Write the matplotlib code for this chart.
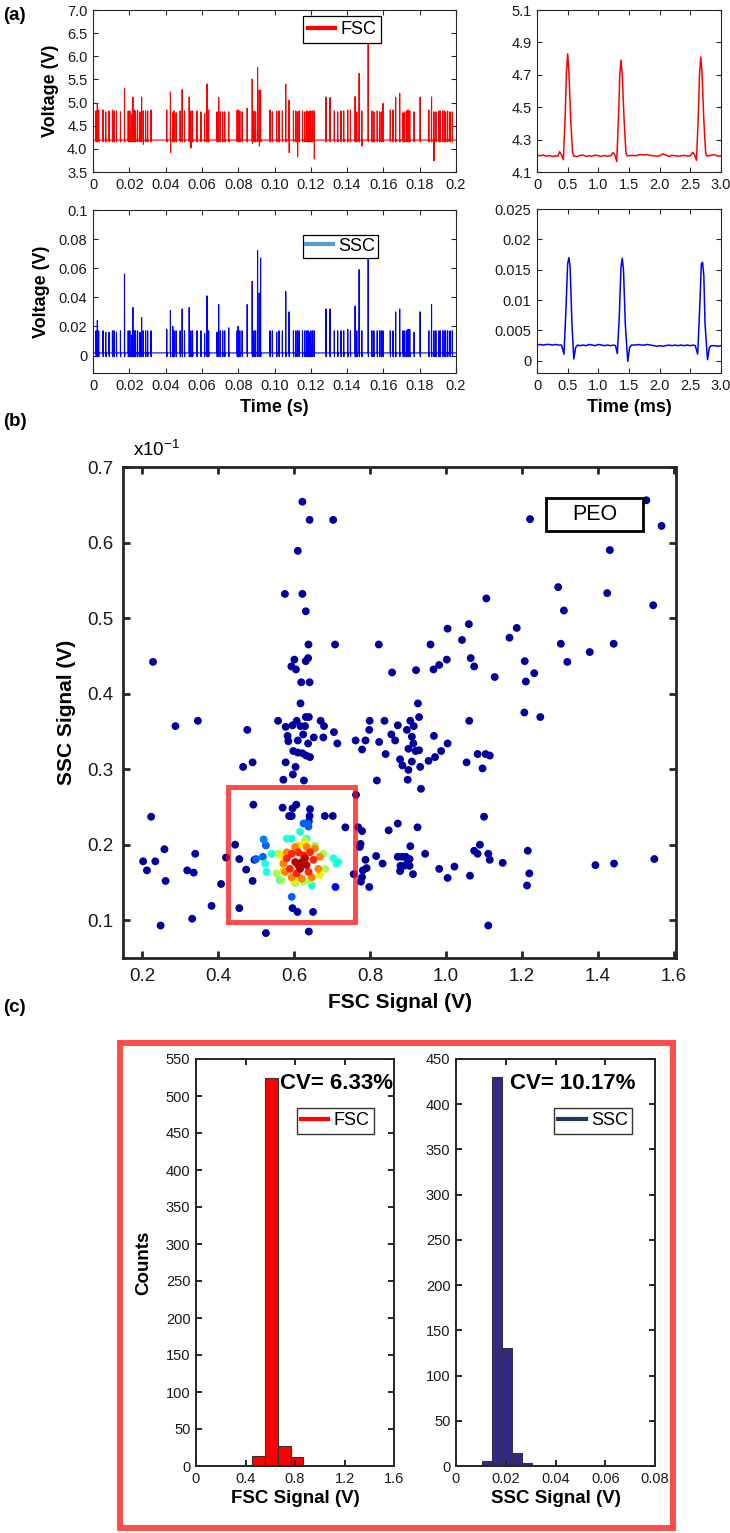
import numpy as np
import matplotlib
matplotlib.use('Agg')
import matplotlib.pyplot as plt
from matplotlib.lines import Line2D
from matplotlib.patches import Rectangle

plt.rcParams['font.family'] = ['Liberation Sans', 'DejaVu Sans']
plt.rcParams['mathtext.fontset'] = 'custom'
plt.rcParams['mathtext.rm'] = 'Liberation Sans'

# ---------------- data: panel (a), 0.2 s traces ----------------
spike_t = [0.00166, 0.0024, 0.00314, 0.00554, 0.00702, 0.00886, 0.01071, 0.01163, 0.01293, 0.01514,
           0.01736, 0.01939, 0.02031, 0.02124, 0.02198, 0.02271, 0.02345, 0.02456, 0.02585, 0.02678,
           0.0277, 0.029, 0.0301, 0.03195, 0.04063, 0.04266, 0.04395, 0.04469, 0.0458, 0.04801,
           0.04912, 0.05042, 0.053, 0.05392, 0.05485, 0.05725, 0.05946, 0.0615, 0.06279, 0.06371,
           0.06833, 0.06925, 0.07018, 0.07147, 0.07258, 0.07479, 0.07941, 0.07996, 0.08089, 0.08218,
           0.08495, 0.08772, 0.08864, 0.08957, 0.09067, 0.0916, 0.09234, 0.09751, 0.0988, 0.1012,
           0.10249, 0.10434, 0.10619, 0.10803, 0.11044, 0.11173, 0.11265, 0.11357, 0.11542, 0.11671,
           0.11782, 0.11856, 0.1193, 0.12004, 0.12096, 0.12188, 0.12835, 0.13056, 0.13296, 0.13481,
           0.13666, 0.13813, 0.14035, 0.14183, 0.14441, 0.14534, 0.14663, 0.14811, 0.15162, 0.15365,
           0.15475, 0.1566, 0.15789, 0.15882, 0.15974, 0.1638, 0.16528, 0.16676, 0.16898, 0.17082,
           0.17175, 0.17285, 0.17359, 0.17452, 0.17692, 0.18024, 0.18504, 0.18652, 0.18781, 0.18892,
           0.19058, 0.19132, 0.19261, 0.19354, 0.19428, 0.19538, 0.19668, 0.19797]
fsc_peak = [4.82, 4.98, 4.84, 4.84, 4.80, 4.82, 4.84, 4.82, 4.82, 4.80,
            5.31, 4.82, 4.82, 4.74, 5.12, 4.84, 4.82, 4.84, 4.80, 5.12,
            4.82, 4.82, 4.82, 4.84, 4.84, 5.23, 4.78, 4.82, 4.78, 4.82,
            5.28, 4.82, 5.12, 4.82, 4.82, 4.82, 4.80, 4.76, 5.40, 4.84,
            4.80, 5.11, 4.80, 4.80, 4.80, 4.80, 4.83, 4.84, 4.82, 4.80,
            4.88, 5.51, 4.82, 4.80, 5.76, 5.27, 5.27, 4.84, 4.80, 4.82,
            4.82, 4.82, 5.40, 5.05, 4.82, 4.82, 4.80, 4.82, 4.82, 4.80,
            4.82, 4.80, 4.82, 4.82, 4.82, 4.82, 5.12, 5.11, 4.82, 4.80,
            4.82, 4.82, 4.84, 4.84, 5.13, 4.80, 5.63, 4.82, 6.30, 4.82,
            4.80, 4.82, 4.80, 4.80, 4.98, 4.84, 4.84, 5.11, 5.20, 4.78,
            4.80, 4.82, 4.84, 4.82, 4.80, 5.12, 4.84, 5.12, 4.80, 4.80,
            4.82, 4.82, 4.82, 4.82, 4.80, 4.82, 4.80, 4.80]
ssc_peak = [0.017, 0.024, 0.017, 0.017, 0.016, 0.016, 0.017, 0.017, 0.016, 0.017,
            0.056, 0.017, 0.017, 0.014, 0.033, 0.017, 0.017, 0.017, 0.016, 0.026,
            0.017, 0.017, 0.017, 0.017, 0.018, 0.031, 0.020, 0.017, 0.017, 0.017,
            0.032, 0.017, 0.033, 0.017, 0.017, 0.017, 0.017, 0.015, 0.041, 0.017,
            0.016, 0.035, 0.017, 0.017, 0.017, 0.019, 0.017, 0.020, 0.017, 0.017,
            0.035, 0.051, 0.017, 0.017, 0.072, 0.043, 0.067, 0.017, 0.017, 0.016,
            0.017, 0.017, 0.044, 0.030, 0.017, 0.017, 0.017, 0.017, 0.017, 0.017,
            0.017, 0.017, 0.016, 0.017, 0.017, 0.017, 0.032, 0.032, 0.017, 0.017,
            0.017, 0.017, 0.018, 0.017, 0.034, 0.017, 0.059, 0.017, 0.072, 0.017,
            0.017, 0.017, 0.017, 0.017, 0.017, 0.017, 0.017, 0.030, 0.032, 0.017,
            0.017, 0.017, 0.018, 0.018, 0.016, 0.030, 0.017, 0.035, 0.017, 0.017,
            0.017, 0.017, 0.017, 0.017, 0.017, 0.017, 0.017, 0.017]
fsc_base = 4.19
fsc_dip_default = 4.15
fsc_dip_t = [0.0277, 0.04266, 0.05392, 0.08772, 0.0916, 0.10803, 0.11265, 0.12188, 0.14811, 0.18781]
fsc_dip_v = [4.10, 3.92, 4.02, 4.12, 4.06, 3.92, 3.83, 3.78, 4.06, 3.74]
ssc_base = 0.0018
ssc_dip_default = -0.0008

# ---------------- data: panel (a), 3 ms zoom ----------------
ms_fsc_t = [0, 0.05, 0.1, 0.15, 0.2, 0.25, 0.3, 0.34, 0.37, 0.40, 0.43, 0.46, 0.48, 0.50, 0.52, 0.55,
            0.58, 0.60, 0.65, 0.70, 0.75, 0.80, 0.85, 0.90, 0.95, 1.0, 1.05, 1.10, 1.15, 1.20, 1.24,
            1.27, 1.30, 1.33, 1.35, 1.37, 1.39, 1.42, 1.45, 1.47, 1.50, 1.55, 1.60, 1.65, 1.70, 1.75,
            1.80, 1.85, 1.90, 1.95, 2.0, 2.05, 2.10, 2.15, 2.20, 2.25, 2.30, 2.35, 2.40, 2.45, 2.50,
            2.54, 2.57, 2.60, 2.63, 2.65, 2.67, 2.69, 2.72, 2.75, 2.77, 2.80, 2.85, 2.90, 2.95, 3.0]
ms_fsc_v = [4.205, 4.200, 4.205, 4.198, 4.202, 4.196, 4.200, 4.198, 4.225, 4.205, 4.175, 4.45, 4.72,
            4.83, 4.72, 4.42, 4.22, 4.198, 4.195, 4.202, 4.205, 4.196, 4.200, 4.198, 4.205, 4.200,
            4.196, 4.202, 4.198, 4.200, 4.220, 4.205, 4.165, 4.45, 4.70, 4.79, 4.70, 4.42, 4.22, 4.20,
            4.200, 4.203, 4.200, 4.205, 4.208, 4.205, 4.208, 4.202, 4.200, 4.198, 4.200, 4.212, 4.205,
            4.196, 4.203, 4.200, 4.198, 4.200, 4.203, 4.198, 4.200, 4.222, 4.205, 4.172, 4.45, 4.70,
            4.81, 4.72, 4.42, 4.22, 4.198, 4.200, 4.205, 4.206, 4.198, 4.200]
ms_ssc_t = [0, 0.05, 0.1, 0.15, 0.2, 0.25, 0.3, 0.35, 0.40, 0.44, 0.47, 0.50, 0.52, 0.54, 0.57, 0.60,
            0.63, 0.66, 0.70, 0.75, 0.80, 0.85, 0.90, 0.95, 1.0, 1.05, 1.10, 1.15, 1.20, 1.25, 1.28,
            1.31, 1.34, 1.37, 1.39, 1.41, 1.44, 1.48, 1.51, 1.54, 1.60, 1.65, 1.70, 1.75, 1.80, 1.85,
            1.90, 1.95, 2.0, 2.05, 2.10, 2.15, 2.20, 2.25, 2.30, 2.35, 2.40, 2.45, 2.50, 2.55, 2.58,
            2.62, 2.65, 2.68, 2.70, 2.72, 2.74, 2.78, 2.81, 2.84, 2.90, 2.95, 3.0]
ms_ssc_v = [0.0026, 0.0027, 0.0026, 0.0027, 0.0027, 0.0026, 0.0027, 0.0026, 0.0026, 0.0011, 0.008,
            0.016, 0.0170, 0.0155, 0.006, 0.0003, 0.0022, 0.0026, 0.0025, 0.0026, 0.0025, 0.0027,
            0.0026, 0.0025, 0.0027, 0.0026, 0.0025, 0.0026, 0.0025, 0.0026, 0.0025, 0.0012, 0.007,
            0.0155, 0.0169, 0.015, 0.006, -0.0001, 0.0022, 0.0026, 0.0026, 0.0027, 0.0026, 0.0026,
            0.0027, 0.0026, 0.0025, 0.0024, 0.0025, 0.0024, 0.0025, 0.0026, 0.0025, 0.0026, 0.0025,
            0.0026, 0.0025, 0.0026, 0.0025, 0.0026, 0.0025, 0.0011, 0.008, 0.0160, 0.0162, 0.014,
            0.006, 0.0002, 0.0022, 0.0025, 0.0025, 0.0024, 0.0025]

# ---------------- data: panel (b), scatter ----------------
bg_fsc = [0.622, 0.641, 0.703, 0.610, 0.576, 0.622, 0.631, 0.638, 0.708, 0.823, 0.229, 0.601, 0.593,
          0.605, 0.631, 0.637, 0.619, 0.641, 0.617, 0.858, 0.921, 0.926, 0.959, 0.967, 0.982, 1.002,
          1.004, 1.042, 1.060, 1.065, 1.074, 1.106, 1.128,
          1.527, 1.221, 1.567, 1.431, 1.295, 1.424, 1.310, 1.545, 1.186, 1.167, 1.302, 1.441, 1.378,
          1.319, 1.207, 1.232, 1.210, 1.206, 1.248,
          0.347, 0.288, 0.477, 0.558, 0.578, 0.596, 0.607, 0.617, 0.631, 0.639, 0.629, 0.624, 0.610,
          0.583, 0.585, 0.637, 0.652, 0.677, 0.670, 0.679, 0.705, 0.714, 0.598, 0.610, 0.622, 0.632,
          0.642, 0.578, 0.604, 0.597, 0.572, 0.626, 0.466, 0.491,
          0.762, 0.788, 0.779, 0.798, 0.799, 0.824, 0.838, 0.841, 0.818, 0.856, 0.866, 0.873, 0.879,
          0.885, 0.897, 0.906, 0.915, 0.929, 0.910, 0.901, 0.914, 0.920, 0.929, 0.901, 0.899, 0.910,
          0.932, 0.934, 0.954, 0.971, 0.968, 0.987, 1.004, 1.054, 1.061, 1.083, 1.104, 1.115, 1.096,
          0.224, 0.203, 0.213, 0.235, 0.259, 0.262, 0.249, 0.319, 0.336, 0.340, 0.332, 0.383, 0.408,
          0.421, 0.445, 0.456, 0.456, 0.474, 0.491, 0.493, 0.496, 0.526, 0.570, 0.596, 0.606, 0.587,
          0.594, 0.642, 0.641, 0.639, 0.681, 0.702, 0.735, 0.763, 0.769, 0.779, 0.775, 0.773, 0.788,
          0.791, 0.781, 0.779, 0.776, 0.798, 0.757, 0.596, 0.609, 0.650, 0.639, 0.816, 0.833, 0.849,
          0.873, 0.873, 0.884, 0.894, 0.879, 0.880, 0.889, 0.904, 0.899, 0.904, 0.913, 0.906, 0.925,
          0.945, 0.982, 1.004, 1.022, 1.063, 1.089, 1.074, 1.083, 1.100, 1.111, 1.115, 1.111, 1.149,
          1.215, 1.219, 1.213, 1.393, 1.442, 1.548]
bg_ssc = [0.654, 0.630, 0.630, 0.589, 0.532, 0.532, 0.509, 0.465, 0.465, 0.465, 0.442, 0.445, 0.436,
          0.432, 0.443, 0.447, 0.415, 0.415, 0.387, 0.428, 0.431, 0.387, 0.465, 0.432, 0.438, 0.445,
          0.486, 0.471, 0.492, 0.447, 0.436, 0.526, 0.422,
          0.656, 0.631, 0.622, 0.590, 0.541, 0.533, 0.510, 0.517, 0.487, 0.474, 0.466, 0.466, 0.455,
          0.442, 0.443, 0.427, 0.416, 0.375, 0.369,
          0.364, 0.357, 0.352, 0.364, 0.356, 0.358, 0.364, 0.357, 0.369, 0.369, 0.357, 0.346, 0.338,
          0.344, 0.337, 0.334, 0.342, 0.342, 0.364, 0.357, 0.349, 0.334, 0.324, 0.322, 0.321, 0.318,
          0.316, 0.309, 0.303, 0.293, 0.286, 0.285, 0.303, 0.309,
          0.338, 0.338, 0.326, 0.352, 0.364, 0.336, 0.364, 0.320, 0.285, 0.346, 0.338, 0.358, 0.313,
          0.305, 0.352, 0.364, 0.357, 0.369, 0.343, 0.327, 0.334, 0.324, 0.325, 0.299, 0.286, 0.310,
          0.303, 0.274, 0.311, 0.316, 0.344, 0.324, 0.334, 0.309, 0.364, 0.320, 0.320, 0.318, 0.301,
          0.237, 0.178, 0.166, 0.178, 0.194, 0.152, 0.093, 0.166, 0.163, 0.188, 0.102, 0.119, 0.148,
          0.183, 0.200, 0.181, 0.116, 0.167, 0.152, 0.253, 0.180, 0.083, 0.249, 0.248, 0.253, 0.238,
          0.238, 0.247, 0.238, 0.231, 0.238, 0.238, 0.223, 0.266, 0.223, 0.218, 0.201, 0.197, 0.180,
          0.169, 0.166, 0.157, 0.151, 0.144, 0.161, 0.116, 0.111, 0.111, 0.085, 0.185, 0.175, 0.219,
          0.228, 0.184, 0.184, 0.184, 0.165, 0.172, 0.172, 0.172, 0.177, 0.181, 0.161, 0.198, 0.223,
          0.188, 0.168, 0.156, 0.171, 0.159, 0.200, 0.192, 0.188, 0.237, 0.188, 0.180, 0.093, 0.176,
          0.192, 0.162, 0.146, 0.173, 0.175, 0.181]
bg_density = 0.03
clu_fsc = [0.500, 0.526, 0.518, 0.636, 0.625, 0.638, 0.594, 0.520, 0.709,
           0.541, 0.524, 0.528, 0.563, 0.647, 0.704, 0.717, 0.712, 0.633, 0.594, 0.616, 0.581,
           0.559, 0.554, 0.568, 0.603, 0.625, 0.642, 0.677, 0.682, 0.655, 0.629,
           0.568, 0.572, 0.611, 0.629, 0.598, 0.668,
           0.572, 0.576, 0.594, 0.620, 0.647, 0.664, 0.668, 0.655, 0.633, 0.603, 0.581,
           0.581, 0.589, 0.607, 0.638, 0.651, 0.642, 0.611, 0.594, 0.625,
           0.620, 0.603, 0.633, 0.616, 0.629, 0.611]
clu_ssc = [0.181, 0.199, 0.184, 0.228, 0.228, 0.224, 0.131, 0.207, 0.144,
           0.188, 0.175, 0.164, 0.153, 0.146, 0.182, 0.177, 0.175, 0.208, 0.208, 0.217, 0.208,
           0.188, 0.162, 0.153, 0.149, 0.151, 0.153, 0.188, 0.168, 0.199, 0.206,
           0.186, 0.166, 0.199, 0.201, 0.153, 0.160,
           0.175, 0.164, 0.157, 0.155, 0.157, 0.168, 0.184, 0.195, 0.197, 0.197, 0.190,
           0.182, 0.168, 0.162, 0.164, 0.180, 0.190, 0.190, 0.188, 0.186,
           0.177, 0.177, 0.173, 0.168, 0.182, 0.173]
clu_density = [0.22, 0.22, 0.22, 0.22, 0.22, 0.22, 0.22, 0.25, 0.12,
               0.38, 0.38, 0.38, 0.38, 0.38, 0.38, 0.38, 0.38, 0.38, 0.38, 0.38, 0.38,
               0.55, 0.55, 0.55, 0.55, 0.55, 0.55, 0.55, 0.55, 0.55, 0.55,
               0.66, 0.66, 0.66, 0.66, 0.66, 0.66,
               0.77, 0.77, 0.77, 0.77, 0.77, 0.77, 0.77, 0.77, 0.77, 0.77, 0.77,
               0.87, 0.87, 0.87, 0.87, 0.87, 0.87, 0.87, 0.87, 0.87,
               0.95, 0.95, 0.95, 0.95, 0.95, 0.95]
gate_fsc = [0.425, 0.760]
gate_ssc = [0.098, 0.276]

# ---------------- data: panel (c), histograms ----------------
fsc_edges = [0.350, 0.454, 0.557, 0.661, 0.765, 0.868]
fsc_counts = [2, 13, 525, 27, 12]
ssc_edges = [0.0103, 0.0143, 0.0183, 0.0224, 0.0264, 0.0304]
ssc_counts = [5, 430, 131, 14, 3]
fsc_cv = 'CV= 6.33%'
ssc_cv = 'CV= 10.17%'

# ---------------- figure ----------------
W, H = 730, 1533
fig = plt.figure(figsize=(W / 100, H / 100), dpi=100)


def box(l, t, r, b):
    return [l / W, 1 - b / H, (r - l) / W, (b - t) / H]


TC = '#262626'


def style(ax, lw=0.8, ticklen=3.5, fs=10.5, pad=4):
    for s in ax.spines.values():
        s.set_linewidth(lw)
        s.set_color(TC)
    ax.tick_params(direction='in', top=True, right=True, length=ticklen, width=lw,
                   labelsize=fs, colors=TC, pad=pad)
    for lab in ax.get_xticklabels() + ax.get_yticklabels():
        lab.set_color('#1a1a1a')


def spike_trace(times, peaks, base, dip_default, dip_t, dip_v, eps=0.00008):
    dips = dict(zip(dip_t, dip_v))
    xs, ys = [0.0], [base]
    for t, p in zip(times, peaks):
        d = dips.get(t, dip_default)
        xs += [t - eps, t, t + eps, t + 2 * eps]
        ys += [base, p, d, base]
    xs.append(0.2)
    ys.append(base)
    return np.array(xs), np.array(ys)


s_ticks = [0, 0.02, 0.04, 0.06, 0.08, 0.10, 0.12, 0.14, 0.16, 0.18, 0.2]
s_labels = ['0', '0.02', '0.04', '0.06', '0.08', '0.10', '0.12', '0.14', '0.16', '0.18', '0.2']
ms_ticks = [0, 0.5, 1.0, 1.5, 2.0, 2.5, 3.0]
ms_labels = ['0', '0.5', '1.0', '1.5', '2.0', '2.5', '3.0']

# (a) FSC 0.2 s
ax1 = fig.add_axes(box(93, 10, 456, 172))
x, y = spike_trace(spike_t, fsc_peak, fsc_base, fsc_dip_default, fsc_dip_t, fsc_dip_v)
ax1.plot(x, y, color='red', lw=0.8)
ax1.set_xlim(0, 0.2)
ax1.set_ylim(3.5, 7.0)
ax1.set_xticks(s_ticks, s_labels)
ax1.set_yticks([3.5, 4.0, 4.5, 5.0, 5.5, 6.0, 6.5, 7.0], ['3.5', '4.0', '4.5', '5.0', '5.5', '6.0', '6.5', '7.0'])
style(ax1)
ax1.set_ylabel('Voltage (V)', fontsize=13, fontweight='bold', labelpad=6)
ax1.legend(handles=[Line2D([], [], color='red', lw=3)], labels=['FSC'], loc='upper left',
           bbox_to_anchor=(0.579, 0.96), borderaxespad=0, fontsize=13, fancybox=False,
           edgecolor='black', framealpha=1, handlelength=1.5, handletextpad=0.3,
           borderpad=0.25).get_frame().set_linewidth(0.9)

# (a) FSC 3 ms
ax2 = fig.add_axes(box(537, 10, 721, 172))
ax2.plot(ms_fsc_t, ms_fsc_v, color='red', lw=1.1)
ax2.set_xlim(0, 3.0)
ax2.set_ylim(4.1, 5.1)
ax2.set_xticks(ms_ticks, ms_labels)
ax2.set_yticks([4.1, 4.3, 4.5, 4.7, 4.9, 5.1], ['4.1', '4.3', '4.5', '4.7', '4.9', '5.1'])
style(ax2)

# (a) SSC 0.2 s
ax3 = fig.add_axes(box(93, 210, 456, 373))
x, y = spike_trace(spike_t, ssc_peak, ssc_base, ssc_dip_default, [], [])
ax3.plot(x, y, color='blue', lw=0.8)
ax3.set_xlim(0, 0.2)
ax3.set_ylim(-0.012, 0.1)
ax3.set_xticks(s_ticks, s_labels)
ax3.set_yticks([0, 0.02, 0.04, 0.06, 0.08, 0.1], ['0', '0.02', '0.04', '0.06', '0.08', '0.1'])
style(ax3)
ax3.set_ylabel('Voltage (V)', fontsize=13, fontweight='bold', labelpad=6)
ax3.set_xlabel('Time (s)', fontsize=13, fontweight='bold', labelpad=5)
ax3.legend(handles=[Line2D([], [], color='#5b9bd5', lw=3)], labels=['SSC'], loc='upper left',
           bbox_to_anchor=(0.579, 0.846), borderaxespad=0, fontsize=13, fancybox=False,
           edgecolor='black', framealpha=1, handlelength=1.5, handletextpad=0.3,
           borderpad=0.15).get_frame().set_linewidth(0.9)

# (a) SSC 3 ms
ax4 = fig.add_axes(box(537, 209, 721, 373))
ax4.plot(ms_ssc_t, ms_ssc_v, color='blue', lw=1.1)
ax4.set_xlim(0, 3.0)
ax4.set_ylim(-0.002, 0.025)
ax4.set_xticks(ms_ticks, ms_labels)
ax4.set_yticks([0, 0.005, 0.01, 0.015, 0.02, 0.025], ['0', '0.005', '0.01', '0.015', '0.02', '0.025'])
style(ax4)
ax4.set_xlabel('Time (ms)', fontsize=13, fontweight='bold', labelpad=5)

# (b) scatter
ax5 = fig.add_axes(box(123, 467, 676, 958))
px = np.concatenate([bg_fsc, clu_fsc])
py = np.concatenate([bg_ssc, clu_ssc])
pc = np.concatenate([np.full(len(bg_fsc), bg_density), clu_density])
order = np.argsort(pc, kind='stable')
ax5.scatter(px[order], py[order], c=pc[order], cmap='jet', vmin=0, vmax=1, s=32,
            edgecolors='none', zorder=2)
ax5.add_patch(Rectangle((gate_fsc[0], gate_ssc[0]), gate_fsc[1] - gate_fsc[0], gate_ssc[1] - gate_ssc[0],
                        fill=False, edgecolor='red', alpha=0.7, lw=3.6, zorder=3))
ax5.set_xlim(0.15, 1.605)
ax5.set_ylim(0.05, 0.7)
ax5.set_xticks([0.2, 0.4, 0.6, 0.8, 1.0, 1.2, 1.4, 1.6], ['0.2', '0.4', '0.6', '0.8', '1.0', '1.2', '1.4', '1.6'])
ax5.set_yticks([0.1, 0.2, 0.3, 0.4, 0.5, 0.6, 0.7], ['0.1', '0.2', '0.3', '0.4', '0.5', '0.6', '0.7'])
style(ax5, lw=2.0, ticklen=5, fs=13.5, pad=7)
ax5.set_xlabel('FSC Signal (V)', fontsize=15, fontweight='bold', labelpad=6)
ax5.set_ylabel('SSC Signal (V)', fontsize=15, fontweight='bold', labelpad=8)
ax5.text(0.018, 1.022, r'x10$^{-1}$', transform=ax5.transAxes, fontsize=13.5, ha='left', va='baseline')
ax5.add_patch(Rectangle((0.765, 0.870), 0.175, 0.067, transform=ax5.transAxes, fill=False,
                        edgecolor='black', lw=2.0, zorder=4))
ax5.text(0.853, 0.903, 'PEO', transform=ax5.transAxes, fontsize=15.5, ha='center', va='center', zorder=5)

# (c) histograms
ax6 = fig.add_axes(box(196, 1059, 394, 1466))
ax6.bar(fsc_edges[:-1], fsc_counts, width=np.diff(fsc_edges), align='edge', color='red',
        edgecolor='#333333', lw=0.8)
ax6.set_xlim(0, 1.6)
ax6.set_ylim(0, 550)
ax6.set_xticks([0, 0.4, 0.8, 1.2, 1.6], ['0', '0.4', '0.8', '1.2', '1.6'])
ax6.set_yticks(list(range(0, 551, 50)))
style(ax6, lw=1.4, ticklen=4, fs=10.5)
ax6.set_xlabel('FSC Signal (V)', fontsize=13.5, fontweight='bold', labelpad=3)
ax6.set_ylabel('Counts', fontsize=13.5, fontweight='bold', labelpad=10)
ax6.text(0.424, 0.941, fsc_cv, transform=ax6.transAxes, fontsize=16, fontweight='bold',
         ha='left', va='center')
ax6.legend(handles=[Line2D([], [], color='red', lw=3)], labels=['FSC'], loc='upper left',
           bbox_to_anchor=(0.508, 0.880), borderaxespad=0, fontsize=13, fancybox=False,
           edgecolor='#333333', framealpha=1, handlelength=1.5, handletextpad=0.3,
           borderpad=0.25).get_frame().set_linewidth(1.0)

ax7 = fig.add_axes(box(456, 1059, 655, 1466))
ax7.bar(ssc_edges[:-1], ssc_counts, width=np.diff(ssc_edges), align='edge', color='#332a87',
        edgecolor='#333333', lw=0.8)
ax7.set_xlim(0, 0.08)
ax7.set_ylim(0, 450)
ax7.set_xticks([0, 0.02, 0.04, 0.06, 0.08], ['0', '0.02', '0.04', '0.06', '0.08'])
ax7.set_yticks(list(range(0, 451, 50)))
style(ax7, lw=1.4, ticklen=4, fs=10.5)
ax7.set_xlabel('SSC Signal (V)', fontsize=13.5, fontweight='bold', labelpad=3)
ax7.text(0.271, 0.941, ssc_cv, transform=ax7.transAxes, fontsize=16, fontweight='bold',
         ha='left', va='center')
ax7.legend(handles=[Line2D([], [], color='#1f3864', lw=3)], labels=['SSC'], loc='upper left',
           bbox_to_anchor=(0.492, 0.880), borderaxespad=0, fontsize=13, fancybox=False,
           edgecolor='#333333', framealpha=1, handlelength=1.5, handletextpad=0.3,
           borderpad=0.25).get_frame().set_linewidth(1.0)

# frame around (c)
fig.patches.append(Rectangle((120 / W, 1 - 1528 / H), (673 - 120) / W, (1528 - 1043) / H,
                             transform=fig.transFigure, fill=False, edgecolor='red', alpha=0.7,
                             lw=4.3))

# panel labels
fig.text(3 / W, 1 - 15 / H, '(a)', fontsize=13.5, fontweight='bold', va='center', ha='left')
fig.text(3 / W, 1 - 421 / H, '(b)', fontsize=13.5, fontweight='bold', va='center', ha='left')
fig.text(3 / W, 1 - 1008 / H, '(c)', fontsize=13.5, fontweight='bold', va='center', ha='left')

fig.savefig('out.png', dpi=100)
